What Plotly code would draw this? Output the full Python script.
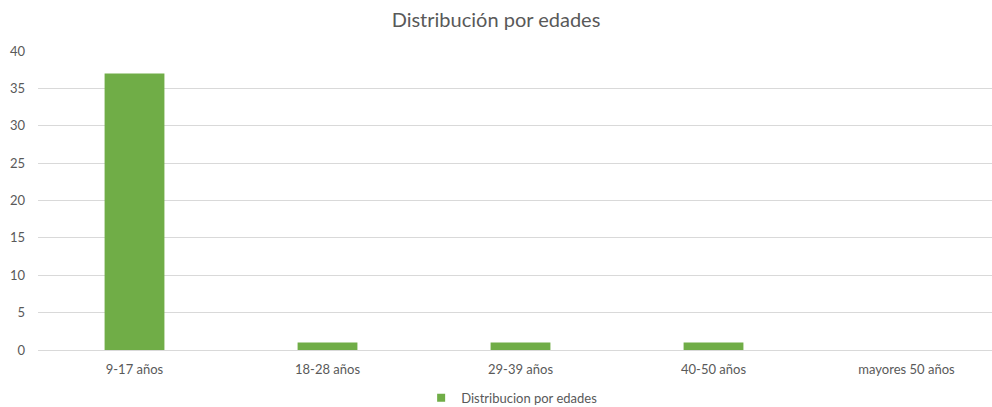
import plotly.graph_objects as go

categories = ["9-17 años", "18-28 años", "29-39 años", "40-50 años", "mayores 50 años"]
values = [37, 1, 1, 1, 0]
series_name = "Distribucion por edades"
title = "Distribución por edades"
y_ticks = [0, 5, 10, 15, 20, 25, 30, 35, 40]

GREEN = "#70AD47"
TEXT = "#595959"
GRID = "#D9D9D9"

fig = go.Figure()
fig.add_bar(
    x=categories, y=values, name=series_name,
    marker=dict(color=GREEN, line=dict(width=0)),
    width=0.31, showlegend=False,
)
# legend entry drawn as a small square, like the original
fig.add_scatter(
    x=[None], y=[None], mode="markers", name=series_name,
    marker=dict(symbol="square", size=8, color=GREEN),
)

fig.update_layout(
    width=992, height=407,
    paper_bgcolor="white", plot_bgcolor="white",
    font=dict(family="Lato, Noto Sans, sans-serif", color=TEXT, size=13),
    title=dict(text=title, x=0.5, xanchor="center", y=0.95, yanchor="middle",
               font=dict(size=20, color=TEXT)),
    margin=dict(l=38, r=0, t=51, b=57, autoexpand=False),
    legend=dict(orientation="h", x=0.497, xanchor="center", y=-0.16, yanchor="middle",
                font=dict(size=13, color=TEXT), itemwidth=30),
    xaxis=dict(range=[-0.5, 4.443], showgrid=False, ticks="", showline=False,
               ticklabelstandoff=10, tickfont=dict(size=13, color=TEXT)),
    yaxis=dict(range=[0, 40], tickvals=y_ticks, showgrid=True, gridcolor=GRID,
               gridwidth=1, zeroline=True, zerolinecolor=GRID, zerolinewidth=1,
               ticks="", ticklabelstandoff=12, tickfont=dict(size=13, color=TEXT)),
)

# drop the browser's default body margin so the figure fills the window exactly
fig.write_html(
    "out.html",
    config={"displayModeBar": False},
    post_script="document.body.style.margin='0';document.body.style.overflow='hidden';",
)
